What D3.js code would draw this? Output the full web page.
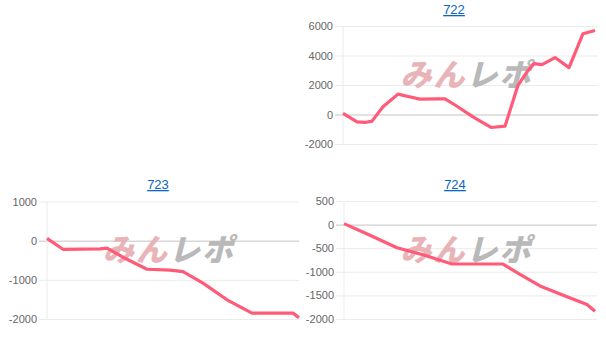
<!DOCTYPE html>
<html>
<head>
<meta charset="utf-8">
<script src="https://cdn.jsdelivr.net/npm/d3@7"></script>
<style>
  body { margin: 0; background: #fff; }
  svg { display: block; }
</style>
</head>
<body>
<svg width="606" height="347"></svg>
<script>
// game counts (x) and coin difference (y) per machine
const games722 = [0, 420, 660, 870, 1200, 1650, 1920, 2310, 2820, 3060, 3420, 3900, 4440, 4860, 5250, 5520, 5730, 5970, 6360, 6780, 7200, 7560];
const diff722 = [70, -500, -540, -450, 520, 1380, 1240, 1040, 1060, 1060, 560, -160, -880, -790, 1980, 2890, 3450, 3380, 3860, 3180, 5480, 5700];

const games723 = [0, 480, 1590, 1800, 2340, 3000, 3690, 4080, 4680, 5400, 6150, 7380, 7560];
const diff723 = [60, -220, -210, -190, -450, -730, -750, -790, -1085, -1510, -1850, -1850, -1970];

const games724 = [0, 780, 1590, 2370, 3240, 4770, 5280, 5880, 6690, 7290, 7530];
const diff724 = [20, -225, -490, -640, -835, -835, -1055, -1300, -1530, -1695, -1835];

const ticks722 = [-2000, 0, 2000, 4000, 6000];
const ticks723 = [-2000, -1000, 0, 1000];
const ticks724 = [-2000, -1500, -1000, -500, 0, 500];

const panels = [
  { title: "722", games: games722, diff: diff722, ticks: ticks722, xMax: 7650,
    left: 343, right: 598, top: 26, bottom: 144, titleX: 454, titleY: 14 },
  { title: "723", games: games723, diff: diff723, ticks: ticks723, xMax: 7560,
    left: 47, right: 299, top: 201.5, bottom: 319, titleX: 158, titleY: 189 },
  { title: "724", games: games724, diff: diff724, ticks: ticks724, xMax: 7590,
    left: 344, right: 597, top: 201, bottom: 319, titleX: 455, titleY: 189 }
];

const svg = d3.select("svg");

panels.forEach(p => {
  const g = svg.append("g");

  const x = d3.scaleLinear().domain([0, p.xMax]).range([p.left, p.right]);
  const y = d3.scaleLinear()
    .domain([d3.min(p.ticks), d3.max(p.ticks)])
    .range([p.bottom, p.top]);

  // title (link style)
  g.append("text")
    .attr("x", p.titleX)
    .attr("y", p.titleY)
    .attr("text-anchor", "middle")
    .attr("font-family", "Liberation Sans, Arial, sans-serif")
    .attr("font-size", 13)
    .attr("fill", "#0a66c2")
    .attr("text-decoration", "underline")
    .text(p.title);

  // y axis with grid lines (plain hyphen for negatives)
  const axis = g.append("g")
    .attr("transform", `translate(${p.left},0)`)
    .call(d3.axisLeft(y).tickValues(p.ticks).tickFormat(d => String(d))
      .tickSize(-(p.right - p.left)).tickPadding(10));
  axis.select(".domain").remove();
  axis.selectAll(".tick line")
    .attr("x1", -8)
    .attr("stroke", d => d === 0 ? "#c4c4c4" : "#ebebeb");
  axis.selectAll(".tick text")
    .attr("font-family", "Liberation Sans, Arial, sans-serif")
    .attr("font-size", 11)
    .attr("fill", "#666");

  // vertical axis line
  g.append("line")
    .attr("x1", p.left).attr("x2", p.left)
    .attr("y1", p.top).attr("y2", p.bottom)
    .attr("stroke", "#ebebeb");

  // watermark
  const cx = (p.left + p.right) / 2 - 4;
  const cy = (p.top + p.bottom) / 2 + 1;
  const wm = g.append("text")
    .attr("transform", `translate(${cx},${cy}) skewX(-14)`)
    .attr("text-anchor", "middle")
    .attr("font-family", "Noto Sans CJK JP")
    .attr("font-weight", 900)
    .attr("font-size", 31)
    .attr("letter-spacing", 2);
  wm.append("tspan").attr("fill", "#e8b4b8").text("みん");
  wm.append("tspan").attr("fill", "#b9b9b9").text("レポ");

  // line
  const data = p.games.map((v, i) => ({ g: v, d: p.diff[i] }));
  g.append("path")
    .datum(data)
    .attr("fill", "none")
    .attr("stroke", "#ff5a78")
    .attr("stroke-width", 3.2)
    .attr("stroke-linejoin", "round")
    .attr("d", d3.line().x(d => x(d.g)).y(d => y(d.d)));
});
</script>
</body>
</html>
